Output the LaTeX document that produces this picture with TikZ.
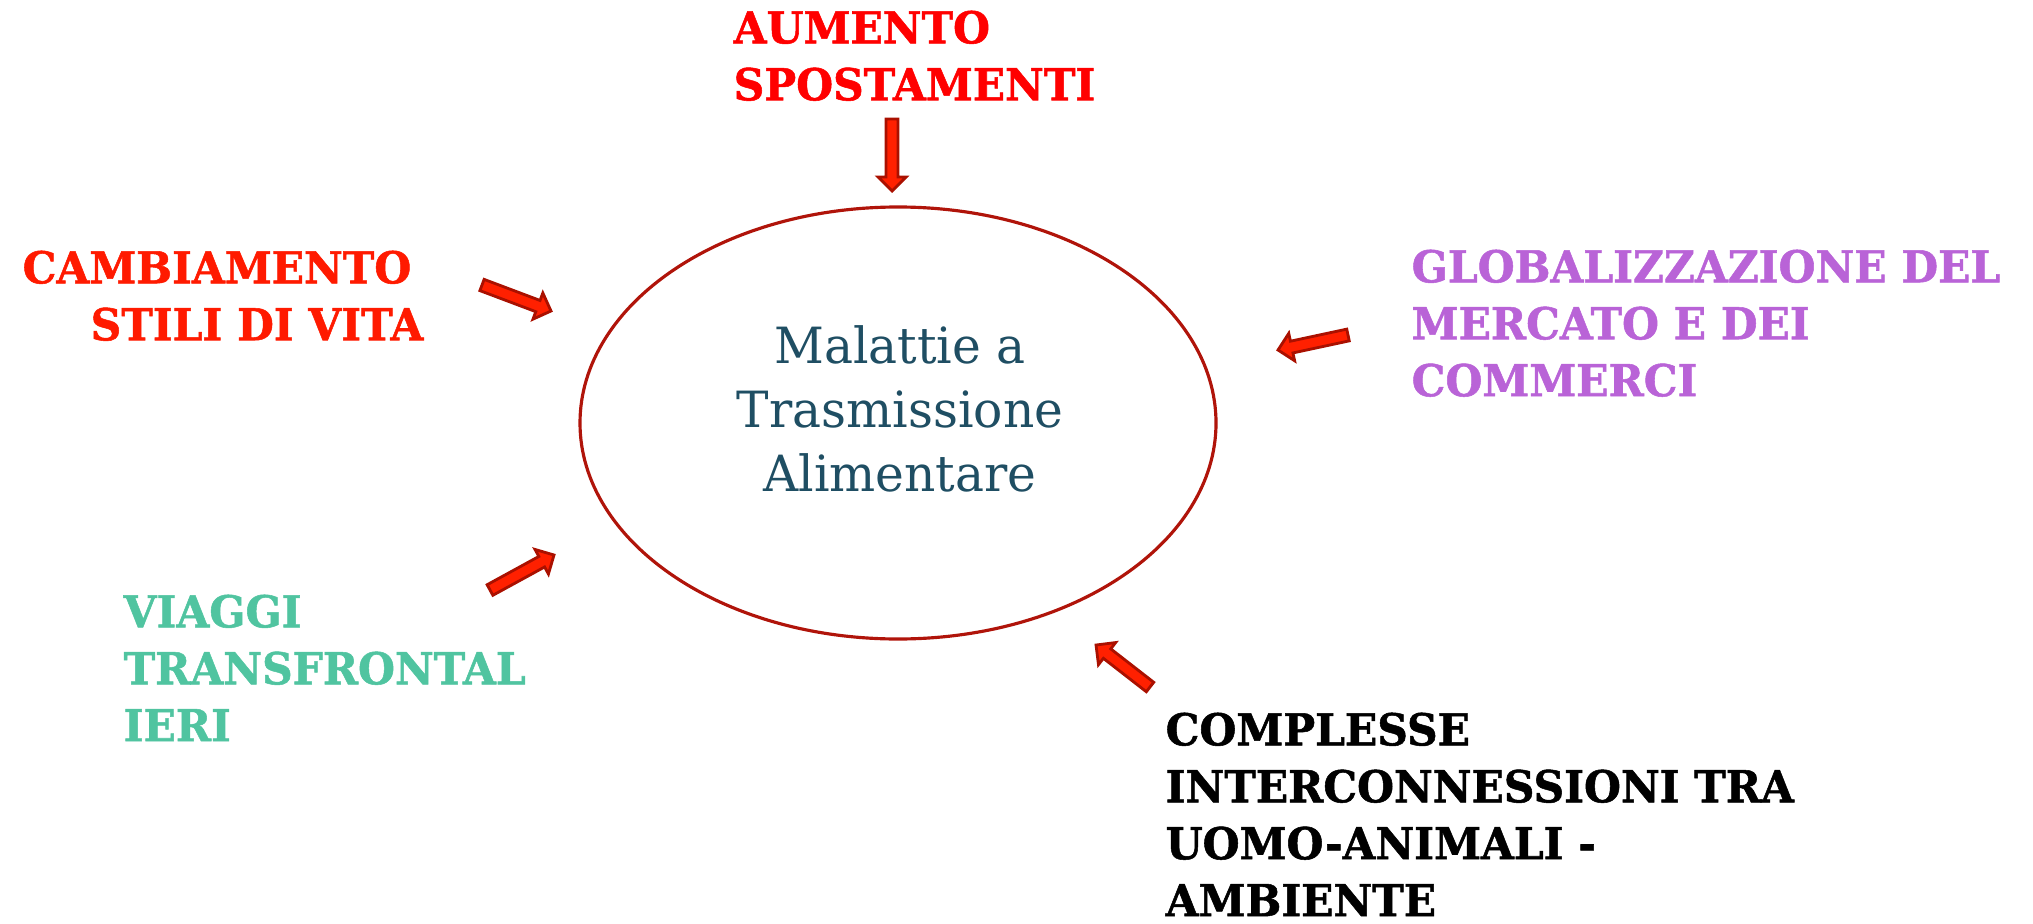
\documentclass[tikz,border=0pt]{standalone}
\usepackage{fontspec}
\setmainfont{DejaVu Serif}
\newfontfamily\causefont[FakeStretch=0.965, FakeBold=1.2]{DejaVu Serif Bold}
\newfontfamily\mtafont[FakeStretch=0.975]{DejaVu Serif}
\usepackage{xcolor}
\usepackage{tikz}
\usetikzlibrary{
    positioning,      % Relative positioning
    shapes.geometric, % Ellipse
    calc              % Coordinate calculations
}

\definecolor{mtaborder}{RGB}{176,20,10}
\definecolor{mtatext}{RGB}{31,78,99}
\definecolor{arrowfill}{RGB}{255,32,0}
\definecolor{arrowline}{RGB}{170,16,0}
\definecolor{causered}{RGB}{255,0,0}
\definecolor{causeorange}{RGB}{255,26,0}
\definecolor{causepurple}{RGB}{185,99,215}
\definecolor{causeteal}{RGB}{80,196,160}

% Fat block arrow between two named coordinates
\newcommand{\fatarrow}[2]{%
  \coordinate (#1-h) at ($(#2)!0.14cm!(#1)$);
  \filldraw[arrowbody] ($(#1)!0.06cm!90:(#2)$) -- ($(#1-h)!0.06cm!-90:(#1)$)
    -- ($(#1-h)!0.14cm!-90:(#1)$) -- (#2) -- ($(#1-h)!0.14cm!90:(#1)$)
    -- ($(#1-h)!0.06cm!90:(#1)$) -- ($(#1)!0.06cm!-90:(#2)$) -- cycle;}

\begin{document}
\begin{tikzpicture}[
    disease/.style={ellipse, draw=mtaborder, line width=0.9pt, minimum width=6.36cm, minimum height=4.32cm},
    maintext/.style={text=mtatext, align=center, font=\mtafont\fontsize{14.2}{18.2}\selectfont},
    cause/.style={inner sep=0pt, align=left, font=\causefont\fontsize{12.5}{16.2}\selectfont},
    arrowbody/.style={fill=arrowfill, draw=arrowline, line width=0.8pt, line join=miter}
]
    \useasboundingbox (0,0) rectangle (20.33,9.23);
    % Central disease node
    \node[disease] (mta) at (8.98,5.0) {};
    \node[maintext] (mtalabel) at (9.0,5.14) {Malattie a\\Trasmissione\\Alimentare};

    % Causes
    \node[cause, text=causered, anchor=north west] (aumento) at (7.33,9.13) {AUMENTO\\SPOSTAMENTI};
    \node[cause, text=causeorange, anchor=north east, align=right] (stili) at (4.24,6.73) {CAMBIAMENTO\hspace*{0.12cm}\\STILI DI VITA};
    \node[cause, text=causepurple, anchor=north west] (globale) at (14.11,6.74) {GLOBALIZZAZIONE DEL\\MERCATO E DEI\\COMMERCI};
    \node[cause, text=causeteal, anchor=north west] (viaggi) at (1.23,3.29) {VIAGGI\\TRANSFRONTAL\\IERI};
    \node[cause, text=black, anchor=north west] (complesse) at (11.65,2.11) {COMPLESSE\\INTERCONNESSIONI TRA\\UOMO-ANIMALI -\\AMBIENTE};

    % Arrows towards the ellipse
    \coordinate (aumtail) at (8.92,8.04);
    \coordinate (aumtip) at (8.92,7.32);
    \coordinate (stilitail) at (4.82,6.38);
    \coordinate (stilitip) at (5.51,6.12);
    \coordinate (globtail) at (13.48,5.88);
    \coordinate (globtip) at (12.78,5.73);
    \coordinate (viaggitail) at (4.90,3.33);
    \coordinate (viaggitip) at (5.54,3.68);
    \coordinate (compltail) at (11.50,2.36);
    \coordinate (compltip) at (10.96,2.78);
    \fatarrow{aumtail}{aumtip}
    \fatarrow{stilitail}{stilitip}
    \fatarrow{globtail}{globtip}
    \fatarrow{viaggitail}{viaggitip}
    \fatarrow{compltail}{compltip}
\end{tikzpicture}
\end{document}
